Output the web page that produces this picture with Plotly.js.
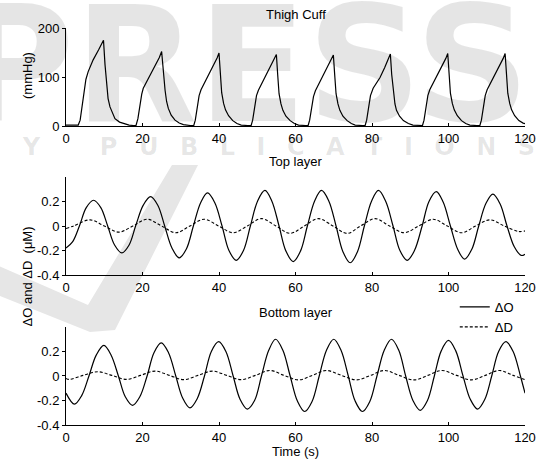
<!DOCTYPE html>
<html><head><meta charset="utf-8">
<script src="https://cdn.plot.ly/plotly-3.0.1.min.js"></script>
<style>html,body{margin:0;padding:0;background:#fff}#chart{width:538px;height:462px}</style>
</head><body><div id="chart"></div>
<script>
// ---- Thigh cuff pressure (mmHg) ----
const cuffTime = [0,1.5,3.2,3.7,4.5,5.2,5.8,7.1,8.5,9.8,10.2,10.6,11.0,11.5,12.2,12.8,14.0,15.0,16.5,17.6,
  18.3,18.8,19.3,19.8,20.2,21.0,22.0,23.3,24.4,25.0,25.4,25.9,26.3,26.75,27.5,28.5,29.6,30.7,32.5,
  33.4,33.8,34.3,34.8,35.3,36.0,37.2,38.5,39.5,40.0,40.35,40.7,41.2,41.7,42.5,43.6,44.7,45.8,47.5,
  48.4,48.8,49.3,49.8,50.3,51.0,52.2,53.5,54.5,55.0,55.35,55.7,56.2,56.7,57.5,58.6,59.7,60.8,62.6,
  63.3,63.7,64.2,64.7,65.2,65.9,67.1,68.4,69.4,69.9,70.25,70.6,71.1,71.6,72.4,73.5,74.6,75.6,77.5,
  78.2,78.6,79.1,79.6,80.3,81.0,82.1,83.3,84.3,84.8,85.15,85.6,86.0,86.4,87.2,88.2,89.5,90.7,92.4,
  93.2,93.6,94.1,94.6,95.1,95.8,97.0,98.3,99.3,99.8,100.15,100.5,101.0,101.5,102.3,103.4,104.5,105.6,107.4,
  108.2,108.6,109.1,109.6,110.1,110.8,112.0,113.3,114.3,114.8,115.15,115.5,116.0,116.5,117.3,118.4,119.5,120];
const cuffPressure = [2,2,2,12,60,95,111,135,155,175,125,80,56,39,24,15,8,5,2,1,
  1,15,46,65,77,89,101,121,140,152,110,73,50,36,22,12,6,3,1,
  1,12,40,62,74,85,102,122,139,149,106,68,46,33,21,11,5,2,1,
  1,12,40,62,73,84,100,120,136,146,104,66,45,32,20,11,5,2,1,
  1,12,40,60,72,83,100,119,135,145,104,66,45,32,20,11,5,2,1,
  1,12,40,62,77,86,99,119,137,147,105,66,45,32,20,11,5,2,1,
  1,12,40,62,74,85,102,121,138,148,106,67,46,33,21,11,5,2,1,
  1,12,40,62,74,85,102,121,138,148,106,67,46,33,21,11,6,5];

// ---- Top layer (uM) ----
const topTime = [0,1.7,3.5,5.3,7.2,9.1,10.9,12.7,14.6,16.5,18.3,20.2,22.1,24.0,25.8,27.7,29.6,31.5,33.3,35.2,37.0,
  38.9,40.8,42.6,44.5,46.4,48.2,50.1,52.0,53.8,55.7,57.5,59.4,61.3,63.1,65.0,66.8,68.7,70.6,72.4,74.3,
  76.2,78.0,79.9,81.7,83.6,85.5,87.3,89.2,91.1,93.1,94.9,96.8,98.6,100.5,102.4,104.2,106.1,107.9,109.8,111.6,
  113.5,115.3,117.2,119.0,120];
const topDeltaO = [-0.18,-0.13,0.0,0.15,0.21,0.15,0.0,-0.155,-0.22,-0.155,0.01,0.17,0.24,0.17,0.0,-0.18,-0.26,-0.185,0.0,0.19,0.27,
  0.19,0.0,-0.2,-0.28,-0.2,0.0,0.205,0.29,0.205,0.0,-0.205,-0.29,-0.205,0.0,0.205,0.29,0.205,0.0,-0.21,-0.30,
  -0.21,0.0,0.205,0.29,0.2,0.0,-0.2,-0.28,-0.2,0.0,0.2,0.28,0.195,0.0,-0.19,-0.27,-0.19,0.0,0.185,0.26,
  0.18,0.0,-0.17,-0.24,-0.23];
const topDTime = [0,2.0,6.3,10.0,13.8,17.5,21.2,25.0,28.7,32.4,36.1,39.9,43.7,47.4,51.1,54.9,58.6,62.3,66.0,69.8,
  73.5,77.0,80.8,84.6,88.4,92.2,96.0,99.7,103.4,107.1,110.8,114.6,118.3,120];
const topDeltaD = [-0.02,0.0,0.05,0.0,-0.05,0.0,0.055,0.0,-0.055,0.0,0.055,0.0,-0.055,0.0,0.06,0.0,-0.06,0.0,0.06,0.0,
  -0.06,0.0,0.06,0.0,-0.055,0.0,0.055,0.0,-0.055,0.0,0.05,0.0,-0.045,-0.04];

// ---- Bottom layer (uM) ----
const botTime = [0,2.2,4.1,6.0,7.9,9.9,11.8,13.7,15.5,17.4,19.3,21.2,23.0,24.9,26.8,28.7,30.5,32.4,34.3,36.2,38.0,39.9,
  41.8,43.7,45.5,47.4,49.3,51.1,53.0,54.8,56.7,58.6,60.5,62.4,64.3,66.2,68.1,70.0,71.9,73.8,75.6,77.5,
  79.4,81.3,83.2,85.1,87.0,88.8,90.7,92.6,94.5,96.3,98.1,100.0,101.9,103.8,105.7,107.6,109.5,111.3,113.1,115.0,
  116.9,118.8,120];
const botDeltaO = [-0.14,-0.23,-0.16,0.0,0.17,0.25,0.17,0.0,-0.17,-0.24,-0.17,0.0,0.19,0.27,0.19,0.0,-0.18,-0.26,-0.185,0.0,0.2,0.28,
  0.2,0.0,-0.19,-0.27,-0.2,0.0,0.21,0.30,0.21,0.0,-0.205,-0.29,-0.21,0.0,0.21,0.30,0.21,0.0,-0.205,-0.29,
  -0.21,0.0,0.21,0.30,0.21,0.0,-0.2,-0.28,-0.2,0.0,0.205,0.29,0.205,0.0,-0.19,-0.27,-0.19,0.0,0.2,0.28,
  0.2,0.0,-0.14];
const botDTime = [0,0.8,4.5,8.3,12.0,15.8,19.5,23.3,27.0,30.8,34.5,38.3,42.0,45.8,49.5,53.3,57.0,60.8,64.4,68.0,
  72.0,76.0,79.6,83.3,87.1,91.0,94.6,98.3,102.1,106.0,109.6,113.3,116.9,120.0];
const botDeltaD = [-0.02,-0.028,0.005,0.035,0.005,-0.028,0.005,0.04,0.005,-0.03,0.005,0.04,0.005,-0.03,0.005,0.045,0.005,-0.032,0.005,0.045,
  0.005,-0.032,0.005,0.045,0.005,-0.032,0.005,0.045,0.005,-0.032,0.005,0.045,0.005,-0.03];

// ---- labels / ticks ----
const xTicks = [0,20,40,60,80,100,120];
const cuffTicks = [0,100,200];
const layerTicks = [-0.4,-0.2,0,0.2];
const layerTickText = ['-0.4','-0.2','0','0.2'];
const panelTitles = ['Thigh Cuff','Top layer','Bottom layer'];
const seriesNames = ['\u0394O','\u0394D'];

const FONT = 'Liberation Sans, Arial, sans-serif';
const black = '#000';
const solid = {color: black, width: 1.2};
const dashed = {color: black, width: 1.1, dash: '3px,2px'};

const traces = [
  {x: cuffTime, y: cuffPressure, xaxis: 'x', yaxis: 'y', mode: 'lines', line: solid, showlegend: false, hoverinfo: 'skip'},
  {x: topTime, y: topDeltaO, xaxis: 'x2', yaxis: 'y2', mode: 'lines', line: Object.assign({shape: 'spline', smoothing: 1}, solid), showlegend: false},
  {x: topDTime, y: topDeltaD, xaxis: 'x2', yaxis: 'y2', mode: 'lines', line: Object.assign({shape: 'spline', smoothing: 1}, dashed), showlegend: false},
  {x: botTime, y: botDeltaO, xaxis: 'x3', yaxis: 'y3', mode: 'lines', name: seriesNames[0], line: Object.assign({shape: 'spline', smoothing: 1}, solid)},
  {x: botDTime, y: botDeltaD, xaxis: 'x3', yaxis: 'y3', mode: 'lines', name: seriesNames[1], line: Object.assign({shape: 'spline', smoothing: 1}, dashed)}
];

const tickFont = {family: FONT, size: 13, color: black};
function xax(anchor) {
  return {anchor: anchor, domain: [0, 1], range: [0, 120], tickvals: xTicks, ticktext: xTicks.map(String),
    ticks: 'inside', ticklen: 3, tickcolor: black, showline: true, linecolor: black, linewidth: 1,
    showgrid: false, zeroline: false, tickfont: tickFont, fixedrange: true};
}
function yax(anchor, domain, range, vals, text) {
  return {anchor: anchor, domain: domain, range: range, tickvals: vals, ticktext: text,
    ticks: 'outside', ticklen: 3, tickcolor: black, showline: true, linecolor: black, linewidth: 1,
    showgrid: false, zeroline: false, tickfont: tickFont, fixedrange: true};
}

const wmLine = 'TECHNOLOGY PUBLICATIONS'.split('').map(c => c === ' ' ? '\u2007' : c).join('\u2007\u2009');
const wmColor = 'rgba(0,0,0,0.1)';

const annotations = [
  {text: 'PRESS', xref: 'paper', yref: 'paper', x: 0.386, y: 0.905, xanchor: 'center', yanchor: 'middle', showarrow: false,
   font: {family: 'DejaVu Sans', size: 160, color: wmColor, weight: 'bold'}},
  {text: wmLine, xref: 'paper', yref: 'paper', x: 1.026, y: 0.699, xanchor: 'right', yanchor: 'middle', showarrow: false,
   font: {family: 'DejaVu Sans', size: 24, color: wmColor, weight: 'bold'}},
  {text: panelTitles[0], xref: 'paper', yref: 'paper', x: 0.5, y: 1.035, xanchor: 'center', yanchor: 'middle', showarrow: false, font: {family: FONT, size: 13, color: black}},
  {text: panelTitles[1], xref: 'paper', yref: 'paper', x: 0.5, y: 0.6625, xanchor: 'center', yanchor: 'middle', showarrow: false, font: {family: FONT, size: 13, color: black}},
  {text: panelTitles[2], xref: 'paper', yref: 'paper', x: 0.5, y: 0.2846, xanchor: 'center', yanchor: 'middle', showarrow: false, font: {family: FONT, size: 13, color: black}},
  {text: '(mmHg)', xref: 'paper', yref: 'paper', x: -0.085, y: 0.8816, xanchor: 'center', yanchor: 'middle', textangle: -90, showarrow: false, font: {family: FONT, size: 13, color: black}},
  {text: '\u0394O and \u0394D\u00a0\u00a0(\u03bcM)', xref: 'paper', yref: 'paper', x: -0.084, y: 0.3753, xanchor: 'center', yanchor: 'middle', textangle: -90, showarrow: false, font: {family: FONT, size: 13, color: black}},
  {text: 'Time (s)', xref: 'paper', yref: 'paper', x: 0.5, y: -0.068, xanchor: 'center', yanchor: 'middle', showarrow: false, font: {family: FONT, size: 13, color: black}}
];

// faint check-mark watermark (decoration, paper coordinates)
const shapes = [
  {type: 'path', xref: 'paper', yref: 'paper', layer: 'below',
   path: 'M -0.1656 0.4106 L 0.0479 0.3023 L 0.2309 0.6549 L 0.2876 0.6549 L 0.1068 0.2393 L 0.0523 0.2343 L -0.1656 0.335 Z',
   fillcolor: '#e6e6e6', line: {width: 0}}
];

const layout = {
  width: 538, height: 462,
  margin: {l: 66, r: 13, t: 28, b: 37},
  paper_bgcolor: '#fff', plot_bgcolor: 'rgba(0,0,0,0)',
  font: {family: FONT, size: 13, color: black},
  xaxis: xax('y'), yaxis: yax('x', [0.7531, 1], [0, 200], cuffTicks, cuffTicks.map(String)),
  xaxis2: xax('y2'), yaxis2: yax('x2', [0.3778, 0.6247], [-0.4, 0.4], layerTicks, layerTickText),
  xaxis3: xax('y3'), yaxis3: yax('x3', [0, 0.2469], [-0.4, 0.4], layerTicks, layerTickText),
  showlegend: true,
  legend: {x: 0.847, y: 0.335, xanchor: 'left', yanchor: 'top', bgcolor: 'rgba(0,0,0,0)', borderwidth: 0,
    font: {family: FONT, size: 13, color: black}, tracegroupgap: 0},
  annotations: annotations,
  shapes: shapes
};

Plotly.newPlot('chart', traces, layout, {staticPlot: true, displayModeBar: false});
</script>
</body></html>
